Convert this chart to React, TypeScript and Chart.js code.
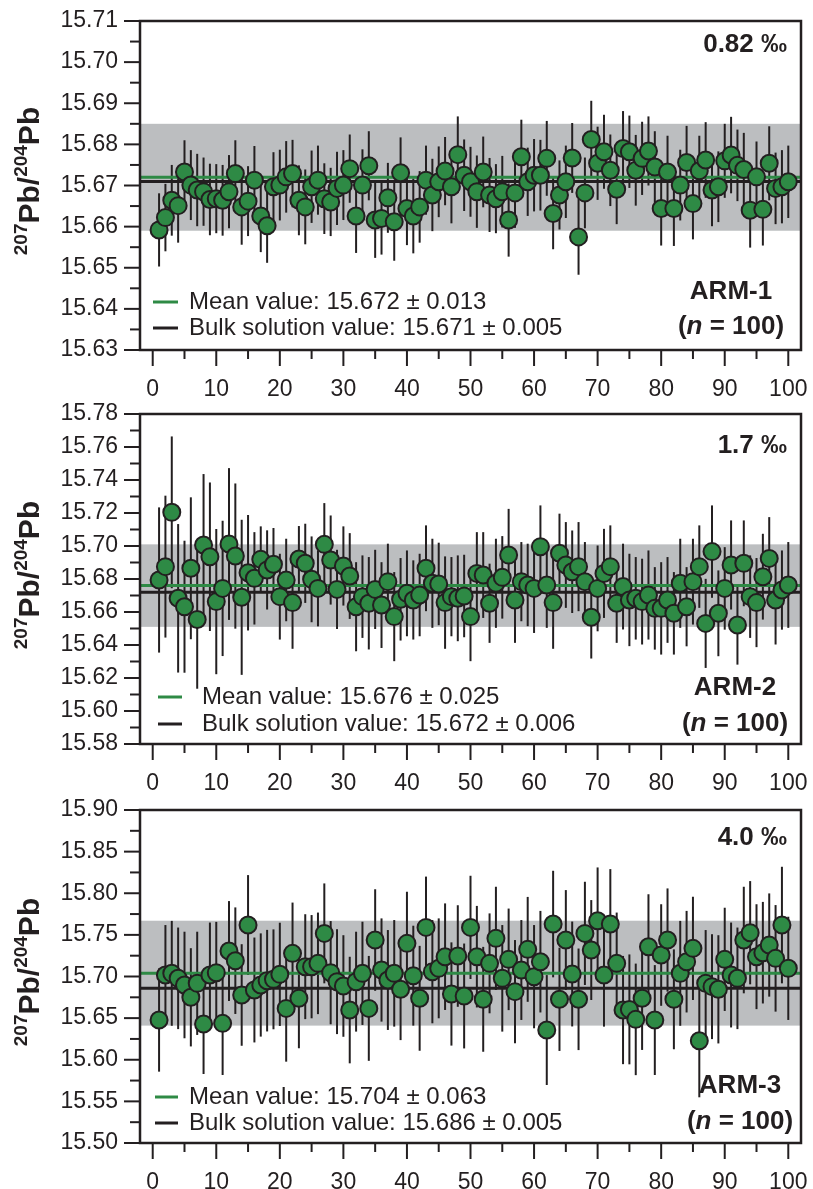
import { useEffect, useRef } from 'react';
import { Chart, registerables } from 'chart.js';

Chart.register(...registerables);

const FONT = '"Liberation Sans", Arial, Helvetica, sans-serif';
const INK = '#231f20';
const GREEN = '#2e8a45';
const BAND = '#bcbec0';

// measurement number (1..100)
const MEASUREMENT = Array.from({ length: 100 }, (_, i) => i + 1);

const X_MIN = -2;
const X_MAX = 102;
const X_TICKS = [0, 10, 20, 30, 40, 50, 60, 70, 80, 90, 100];
const X_MINOR = [5, 15, 25, 35, 45, 55, 65, 75, 85, 95];

// ---------- ARM-1 ----------
const ARM1_VALUES = [
  15.6592, 15.6622, 15.6664, 15.6651, 15.6733, 15.6701, 15.6689, 15.6685, 15.6666, 15.6668,
  15.6664, 15.6685, 15.6729, 15.6648, 15.6662, 15.6713, 15.6626, 15.6602, 15.6697, 15.6701,
  15.6721, 15.6729, 15.6664, 15.6648, 15.6697, 15.6713, 15.6668, 15.6660, 15.6693, 15.6701,
  15.6741, 15.6626, 15.6701, 15.6748, 15.6616, 15.6620, 15.6670, 15.6612, 15.6731, 15.6644,
  15.6626, 15.6648, 15.6713, 15.6677, 15.6709, 15.6735, 15.6697, 15.6775, 15.6725, 15.6709,
  15.6685, 15.6733, 15.6677, 15.6668, 15.6685, 15.6616, 15.6682, 15.6770, 15.6709, 15.6725,
  15.6725, 15.6766, 15.6632, 15.6677, 15.6709, 15.6767, 15.6575, 15.6682, 15.6812, 15.6754,
  15.6782, 15.6737, 15.6691, 15.6790, 15.6782, 15.6737, 15.6766, 15.6784, 15.6745, 15.6644,
  15.6733, 15.6644, 15.6701, 15.6756, 15.6656, 15.6736, 15.6762, 15.6689, 15.6697, 15.6760,
  15.6774, 15.6749, 15.6739, 15.6640, 15.6721, 15.6642, 15.6754, 15.6693, 15.6697, 15.6709,
];
const ARM1_ERRORS = [
  0.0089, 0.0082, 0.0086, 0.0090, 0.0077, 0.0085, 0.0088, 0.0083, 0.0087, 0.0084,
  0.0086, 0.0089, 0.0081, 0.0092, 0.0085, 0.0083, 0.0088, 0.0090, 0.0084, 0.0086,
  0.0087, 0.0082, 0.0085, 0.0091, 0.0088, 0.0084, 0.0086, 0.0083, 0.0089, 0.0085,
  0.0083, 0.0090, 0.0087, 0.0084, 0.0092, 0.0088, 0.0085, 0.0095, 0.0086, 0.0089,
  0.0091, 0.0087, 0.0084, 0.0088, 0.0086, 0.0083, 0.0089, 0.0093, 0.0087, 0.0085,
  0.0088, 0.0086, 0.0090, 0.0084, 0.0087, 0.0089, 0.0085, 0.0090, 0.0083, 0.0088,
  0.0086, 0.0091, 0.0087, 0.0084, 0.0088, 0.0085, 0.0092, 0.0086, 0.0094, 0.0089,
  0.0090, 0.0087, 0.0085, 0.0091, 0.0088, 0.0086, 0.0089, 0.0084, 0.0087, 0.0090,
  0.0088, 0.0091, 0.0086, 0.0089, 0.0087, 0.0085, 0.0092, 0.0088, 0.0086, 0.0090,
  0.0093, 0.0087, 0.0089, 0.0091, 0.0086, 0.0088, 0.0090, 0.0087, 0.0089, 0.0088,
];
const ARM1_Y_TICKS = [15.63, 15.64, 15.65, 15.66, 15.67, 15.68, 15.69, 15.7, 15.71];
const ARM1_Y_MINOR = [15.635, 15.645, 15.655, 15.665, 15.675, 15.685, 15.695, 15.705];

// ---------- ARM-2 ----------
const ARM2_VALUES = [
  15.6794, 15.6875, 15.7204, 15.6683, 15.6632, 15.6865, 15.6555, 15.7006, 15.6935, 15.6663,
  15.6743, 15.7012, 15.6939, 15.6689, 15.6838, 15.6804, 15.6919, 15.6855, 15.6889, 15.6693,
  15.6794, 15.6657, 15.6921, 15.6895, 15.6798, 15.6743, 15.7010, 15.6915, 15.6737, 15.6879,
  15.6818, 15.6632, 15.6693, 15.6653, 15.6737, 15.6642, 15.6784, 15.6572, 15.6677, 15.6713,
  15.6673, 15.6703, 15.6865, 15.6774, 15.6770, 15.6657, 15.6693, 15.6683, 15.6697, 15.6572,
  15.6834, 15.6824, 15.6653, 15.6774, 15.6810, 15.6945, 15.6673, 15.6784, 15.6764, 15.6743,
  15.6996, 15.6764, 15.6657, 15.6956, 15.6885, 15.6844, 15.6875, 15.6784, 15.6568, 15.6743,
  15.6834, 15.6875, 15.6653, 15.6754, 15.6673, 15.6683, 15.6663, 15.6703, 15.6622, 15.6622,
  15.6673, 15.6592, 15.6774, 15.6632, 15.6784, 15.6875, 15.6531, 15.6966, 15.6592, 15.6743,
  15.6885, 15.6521, 15.6895, 15.6693, 15.6657, 15.6814, 15.6925, 15.6673, 15.6733, 15.6764,
];
const ARM2_ERRORS = [
  0.044, 0.043, 0.046, 0.045, 0.040, 0.043, 0.042, 0.043, 0.045, 0.044,
  0.041, 0.046, 0.044, 0.047, 0.035, 0.028, 0.020, 0.024, 0.022, 0.026,
  0.025, 0.028, 0.020, 0.024, 0.026, 0.023, 0.025, 0.027, 0.024, 0.024,
  0.026, 0.027, 0.025, 0.028, 0.024, 0.026, 0.023, 0.027, 0.025, 0.026,
  0.024, 0.025, 0.026, 0.027, 0.025, 0.028, 0.024, 0.026, 0.025, 0.027,
  0.025, 0.026, 0.024, 0.027, 0.025, 0.028, 0.026, 0.024, 0.025, 0.027,
  0.025, 0.026, 0.028, 0.024, 0.026, 0.025, 0.027, 0.024, 0.025, 0.026,
  0.027, 0.025, 0.024, 0.026, 0.028, 0.025, 0.026, 0.027, 0.025, 0.028,
  0.026, 0.025, 0.027, 0.024, 0.026, 0.025, 0.027, 0.028, 0.026, 0.025,
  0.027, 0.024, 0.026, 0.025, 0.027, 0.026, 0.025, 0.027, 0.024, 0.026,
];
const ARM2_Y_TICKS = [15.58, 15.6, 15.62, 15.64, 15.66, 15.68, 15.7, 15.72, 15.74, 15.76, 15.78];
const ARM2_Y_MINOR = [15.59, 15.61, 15.63, 15.65, 15.67, 15.69, 15.71, 15.73, 15.75, 15.77];

// ---------- ARM-3 ----------
const ARM3_VALUES = [
  15.6477, 15.7018, 15.7038, 15.6978, 15.6898, 15.6750, 15.6918, 15.6429, 15.7018, 15.7046,
  15.6437, 15.7306, 15.7190, 15.6778, 15.7618, 15.6838, 15.6898, 15.6950, 15.6966, 15.7026,
  15.6617, 15.7278, 15.6738, 15.7118, 15.7118, 15.7158, 15.7518, 15.7046, 15.6938, 15.6886,
  15.6597, 15.6938, 15.7038, 15.6617, 15.7438, 15.7078, 15.6958, 15.7038, 15.6846, 15.7398,
  15.7010, 15.6738, 15.7590, 15.7058, 15.7098, 15.7238, 15.6790, 15.7246, 15.6766, 15.7590,
  15.7238, 15.6726, 15.7158, 15.7458, 15.6978, 15.7206, 15.6818, 15.7078, 15.7326, 15.6998,
  15.7178, 15.6357, 15.7630, 15.6726, 15.7438, 15.7030, 15.6726, 15.7518, 15.7318, 15.7670,
  15.7018, 15.7630, 15.7158, 15.6597, 15.6605, 15.6485, 15.6738, 15.7358, 15.6477, 15.7258,
  15.7438, 15.6726, 15.7038, 15.7178, 15.7338, 15.6229, 15.6918, 15.6878, 15.6846, 15.7206,
  15.7018, 15.6978, 15.7438, 15.7526, 15.7238, 15.7286, 15.7378, 15.7218, 15.7618, 15.7098,
];
const ARM3_ERRORS = [
  0.062, 0.060, 0.063, 0.061, 0.064, 0.059, 0.062, 0.060, 0.063, 0.061,
  0.062, 0.060, 0.064, 0.061, 0.060, 0.063, 0.062, 0.061, 0.060, 0.062,
  0.064, 0.061, 0.060, 0.063, 0.062, 0.061, 0.060, 0.062, 0.063, 0.061,
  0.064, 0.060, 0.062, 0.063, 0.061, 0.062, 0.060, 0.064, 0.061, 0.062,
  0.060, 0.063, 0.061, 0.062, 0.060, 0.064, 0.062, 0.061, 0.063, 0.062,
  0.061, 0.063, 0.060, 0.062, 0.064, 0.061, 0.062, 0.060, 0.063, 0.062,
  0.061, 0.066, 0.064, 0.062, 0.060, 0.063, 0.061, 0.062, 0.060, 0.064,
  0.062, 0.066, 0.061, 0.065, 0.066, 0.067, 0.062, 0.063, 0.066, 0.061,
  0.062, 0.060, 0.063, 0.061, 0.062, 0.068, 0.064, 0.063, 0.065, 0.062,
  0.063, 0.061, 0.064, 0.062, 0.063, 0.061, 0.062, 0.064, 0.070, 0.062,
];
const ARM3_Y_TICKS = [15.5, 15.55, 15.6, 15.65, 15.7, 15.75, 15.8, 15.85, 15.9];
const ARM3_Y_MINOR = [15.525, 15.575, 15.625, 15.675, 15.725, 15.775, 15.825, 15.875];

// summary statistics
const ARM1_MEAN = 15.672, ARM1_MEAN_2SD = 0.013, ARM1_BULK = 15.671, ARM1_BULK_2SD = 0.005;
const ARM2_MEAN = 15.676, ARM2_MEAN_2SD = 0.025, ARM2_BULK = 15.672, ARM2_BULK_2SD = 0.006;
const ARM3_MEAN = 15.704, ARM3_MEAN_2SD = 0.063, ARM3_BULK = 15.686, ARM3_BULK_2SD = 0.005;

const ARM1_RSD = '0.82 ‰';
const ARM2_RSD = '1.7 ‰';
const ARM3_RSD = '4.0 ‰';

type PanelDef = {
  name: string; rsd: string;
  values: number[]; errors: number[];
  mean: number; meanErr: number; bulk: number; bulkErr: number;
  yMin: number; yMax: number; yTicks: number[]; yMinor: number[]; decimals: number;
  // layout (pixels, page coordinates)
  canvasTop: number; canvasHeight: number; plotTop: number; plotBottom: number;
  legendLineX: [number, number]; legendTextX: number; legendY: [number, number];
  rsdY: number; nameX: number; nameY: number; nY: number; titleY: number;
};

const PANELS: PanelDef[] = [
  {
    name: 'ARM-1', rsd: ARM1_RSD, values: ARM1_VALUES, errors: ARM1_ERRORS,
    mean: ARM1_MEAN, meanErr: ARM1_MEAN_2SD, bulk: ARM1_BULK, bulkErr: ARM1_BULK_2SD,
    yMin: 15.63, yMax: 15.71, yTicks: ARM1_Y_TICKS, yMinor: ARM1_Y_MINOR, decimals: 2,
    canvasTop: 0, canvasHeight: 402, plotTop: 21, plotBottom: 350,
    legendLineX: [153, 178], legendTextX: 189, legendY: [302, 328],
    rsdY: 45, nameX: 731, nameY: 292, nY: 327, titleY: 181,
  },
  {
    name: 'ARM-2', rsd: ARM2_RSD, values: ARM2_VALUES, errors: ARM2_ERRORS,
    mean: ARM2_MEAN, meanErr: ARM2_MEAN_2SD, bulk: ARM2_BULK, bulkErr: ARM2_BULK_2SD,
    yMin: 15.58, yMax: 15.78, yTicks: ARM2_Y_TICKS, yMinor: ARM2_Y_MINOR, decimals: 2,
    canvasTop: 396, canvasHeight: 400, plotTop: 414, plotBottom: 744,
    legendLineX: [158, 182], legendTextX: 202, legendY: [697, 724],
    rsdY: 446, nameX: 735, nameY: 688, nY: 724, titleY: 575,
  },
  {
    name: 'ARM-3', rsd: ARM3_RSD, values: ARM3_VALUES, errors: ARM3_ERRORS,
    mean: ARM3_MEAN, meanErr: ARM3_MEAN_2SD, bulk: ARM3_BULK, bulkErr: ARM3_BULK_2SD,
    yMin: 15.5, yMax: 15.9, yTicks: ARM3_Y_TICKS, yMinor: ARM3_Y_MINOR, decimals: 2,
    canvasTop: 790, canvasHeight: 399, plotTop: 810, plotBottom: 1143,
    legendLineX: [155, 178], legendTextX: 189, legendY: [1097, 1123],
    rsdY: 838, nameX: 740, nameY: 1086, nY: 1122, titleY: 972,
  },
];

const PLOT_LEFT = 140;
const PLOT_RIGHT = 801;
const CANVAS_W = 813;

function makePlugin(p: PanelDef) {
  return {
    id: 'panelDecor' + p.name.replace('-', ''),
    beforeDatasetsDraw(chart: any) {
      const { ctx, chartArea: a, scales } = chart;
      const xs = scales.x, ys = scales.y;
      ctx.save();
      ctx.beginPath();
      ctx.rect(a.left, a.top, a.right - a.left, a.bottom - a.top);
      ctx.clip();
      // 2SD band
      const bTop = ys.getPixelForValue(p.mean + p.meanErr);
      const bBot = ys.getPixelForValue(p.mean - p.meanErr);
      ctx.fillStyle = BAND;
      ctx.fillRect(a.left, bTop, a.right - a.left, bBot - bTop);
      // error bars
      ctx.strokeStyle = INK;
      ctx.lineWidth = 2;
      p.values.forEach((v, i) => {
        const x = xs.getPixelForValue(MEASUREMENT[i]);
        ctx.beginPath();
        ctx.moveTo(x, ys.getPixelForValue(v + p.errors[i]));
        ctx.lineTo(x, ys.getPixelForValue(v - p.errors[i]));
        ctx.stroke();
      });
      // mean & bulk lines
      ctx.lineWidth = 3;
      ctx.strokeStyle = GREEN;
      let y = ys.getPixelForValue(p.mean);
      ctx.beginPath(); ctx.moveTo(a.left, y); ctx.lineTo(a.right, y); ctx.stroke();
      ctx.strokeStyle = INK;
      y = ys.getPixelForValue(p.bulk);
      ctx.beginPath(); ctx.moveTo(a.left, y); ctx.lineTo(a.right, y); ctx.stroke();
      ctx.restore();
    },
    afterDatasetsDraw(chart: any) {
      const { ctx, chartArea: a, scales } = chart;
      const xs = scales.x, ys = scales.y;
      const off = p.canvasTop;
      ctx.save();
      // frame
      ctx.strokeStyle = INK;
      ctx.lineWidth = 2.5;
      ctx.strokeRect(a.left, a.top, a.right - a.left, a.bottom - a.top);
      // tick marks
      ctx.lineWidth = 2;
      const xt = (vals: number[], len: number) => vals.forEach((v) => {
        const x = xs.getPixelForValue(v);
        ctx.beginPath(); ctx.moveTo(x, a.bottom); ctx.lineTo(x, a.bottom + len); ctx.stroke();
      });
      xt(X_TICKS, 16); xt(X_MINOR, 9);
      const yt = (vals: number[], len: number) => vals.forEach((v) => {
        const y = ys.getPixelForValue(v);
        ctx.beginPath(); ctx.moveTo(a.left, y); ctx.lineTo(a.left - len, y); ctx.stroke();
      });
      yt(p.yTicks, 16); yt(p.yMinor, 10);

      // legend
      ctx.lineWidth = 3;
      const [lx0, lx1] = p.legendLineX;
      ctx.strokeStyle = GREEN;
      ctx.beginPath(); ctx.moveTo(lx0, p.legendY[0] - off); ctx.lineTo(lx1, p.legendY[0] - off); ctx.stroke();
      ctx.strokeStyle = INK;
      ctx.beginPath(); ctx.moveTo(lx0, p.legendY[1] - off); ctx.lineTo(lx1, p.legendY[1] - off); ctx.stroke();
      ctx.fillStyle = INK;
      ctx.font = `24px ${FONT}`;
      ctx.textBaseline = 'middle';
      ctx.textAlign = 'left';
      ctx.fillText(`Mean value: ${p.mean.toFixed(3)} ± ${p.meanErr.toFixed(3)}`, p.legendTextX, p.legendY[0] - off);
      ctx.fillText(`Bulk solution value: ${p.bulk.toFixed(3)} ± ${p.bulkErr.toFixed(3)}`, p.legendTextX, p.legendY[1] - off);

      // labels
      const bold = `bold 26px ${FONT}`;
      ctx.font = bold;
      ctx.textAlign = 'right';
      ctx.fillText(p.rsd, 787, p.rsdY - off);
      ctx.textAlign = 'center';
      ctx.fillText(p.name, p.nameX, p.nameY - off);
      // (n = 100)
      const segs: [string, string][] = [
        ['(', bold],
        ['n', `italic bold 26px ${FONT}`],
        [' = 100)', bold],
      ];
      let total = 0;
      segs.forEach(([t, f]) => { ctx.font = f; total += ctx.measureText(t).width; });
      let cx = p.nameX - total / 2;
      ctx.textAlign = 'left';
      segs.forEach(([t, f]) => { ctx.font = f; ctx.fillText(t, cx, p.nY - off); cx += ctx.measureText(t).width; });

      // y title  207Pb/204Pb
      ctx.translate(39, p.titleY - off);
      ctx.rotate(-Math.PI / 2);
      ctx.textBaseline = 'alphabetic';
      const big = `bold 30px ${FONT}`;
      const sup = `bold 19px ${FONT}`;
      const tsegs: [string, string, number][] = [
        ['207', sup, -12], ['Pb', big, 0], ['/', big, 0], ['204', sup, -12], ['Pb', big, 0],
      ];
      let tw = 0;
      tsegs.forEach(([t, f]) => { ctx.font = f; tw += ctx.measureText(t).width; });
      let tx = -tw / 2;
      tsegs.forEach(([t, f, dy]) => { ctx.font = f; ctx.fillText(t, tx, dy); tx += ctx.measureText(t).width; });
      ctx.restore();
    },
  };
}

function zeroPad(s: any) {
  s.paddingLeft = 0; s.paddingRight = 0; s.paddingTop = 0; s.paddingBottom = 0;
}

function Panel({ p }: { p: PanelDef }) {
  const ref = useRef<HTMLCanvasElement>(null);
  useEffect(() => {
    const canvas = ref.current!;
    const chart = new Chart(canvas, {
      type: 'scatter',
      data: {
        datasets: [{
          data: p.values.map((v, i) => ({ x: MEASUREMENT[i], y: v })),
          pointRadius: 8.5,
          pointBackgroundColor: GREEN,
          pointBorderColor: INK,
          pointBorderWidth: 2,
          showLine: false,
        }],
      },
      options: {
        responsive: false,
        animation: false,
        devicePixelRatio: 1,
        layout: { padding: { top: p.plotTop - p.canvasTop, right: CANVAS_W - PLOT_RIGHT, left: 0, bottom: 0 } },
        plugins: { legend: { display: false }, tooltip: { enabled: false } },
        scales: {
          x: {
            type: 'linear', min: X_MIN, max: X_MAX,
            grid: { display: false, drawTicks: false },
            border: { display: false },
            ticks: { font: { size: 23, family: FONT }, color: INK, padding: 26, maxRotation: 0, autoSkip: false, callback: (v: any) => String(v) },
            afterBuildTicks: (s: any) => { s.ticks = X_TICKS.map((v) => ({ value: v })); },
            afterFit: (s: any) => { s.height = p.canvasTop + p.canvasHeight - p.plotBottom; zeroPad(s); },
          },
          y: {
            type: 'linear', min: p.yMin, max: p.yMax,
            grid: { display: false, drawTicks: false },
            border: { display: false },
            ticks: { font: { size: 23, family: FONT }, color: INK, padding: 22, callback: (v: any) => Number(v).toFixed(p.decimals) },
            afterBuildTicks: (s: any) => { s.ticks = p.yTicks.map((v) => ({ value: v })); },
            afterFit: (s: any) => { s.width = PLOT_LEFT; zeroPad(s); },
          },
        },
      } as any,
      plugins: [makePlugin(p)],
    });
    return () => chart.destroy();
  }, [p]);
  return (
    <canvas
      ref={ref}
      width={CANVAS_W}
      height={p.canvasHeight}
      style={{ position: 'absolute', left: 0, top: p.canvasTop, width: CANVAS_W, height: p.canvasHeight }}
    />
  );
}

export default function App() {
  return (
    <div style={{ position: 'absolute', left: 0, top: 0, width: CANVAS_W, height: 1189, background: '#fff' }}>
      {PANELS.map((p) => <Panel key={p.name} p={p} />)}
    </div>
  );
}
